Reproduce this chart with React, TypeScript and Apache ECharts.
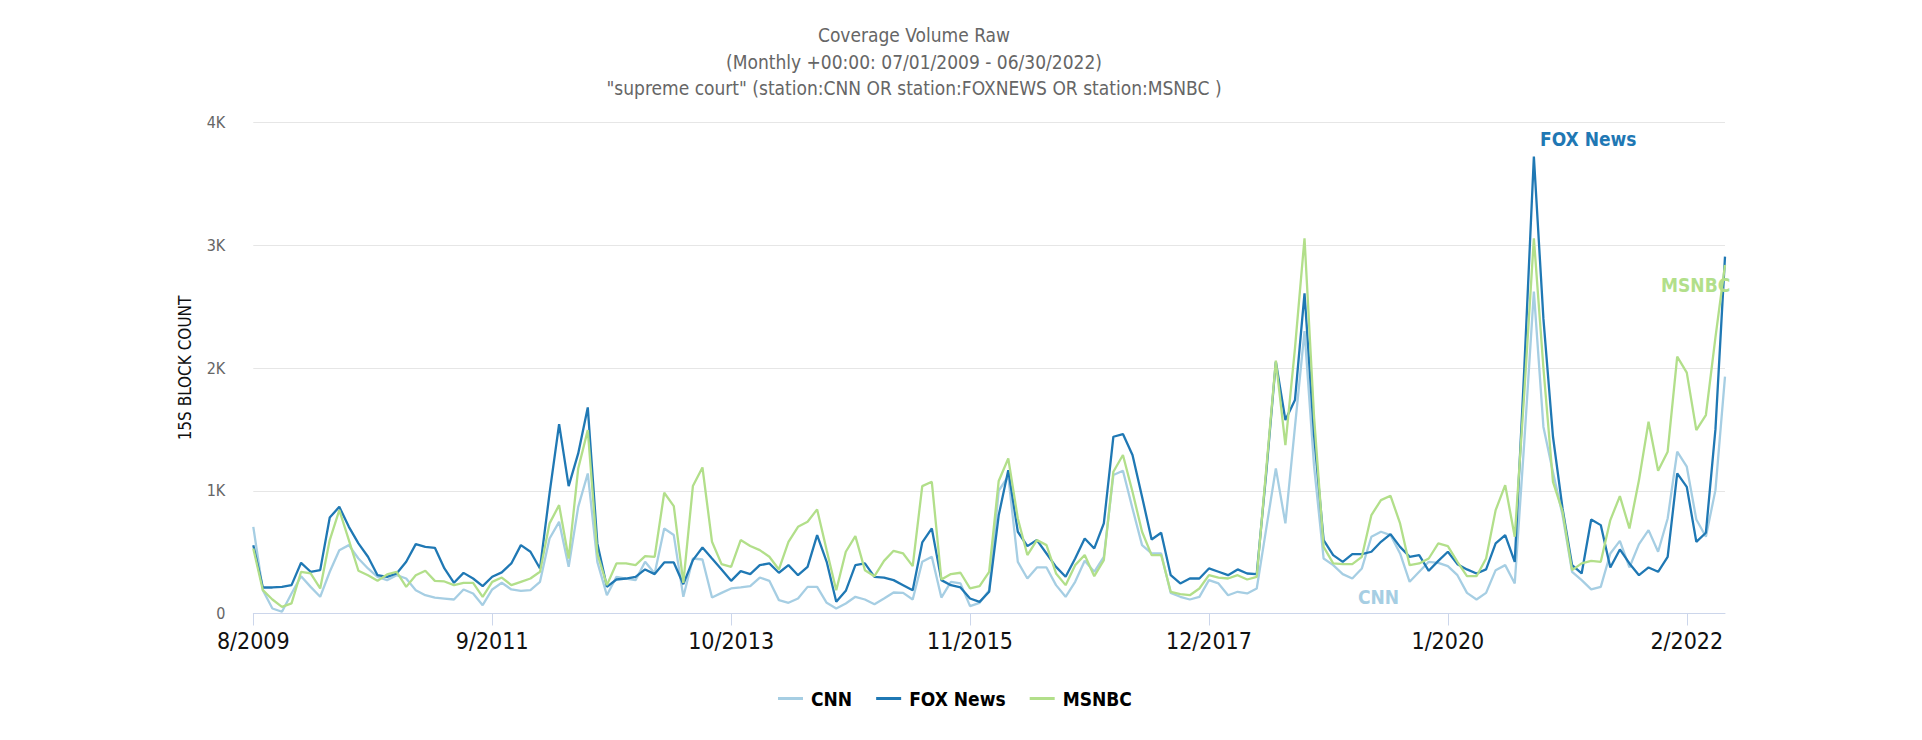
import React, { useEffect, useRef } from "react";
import * as echarts from "echarts";

// ---- Data (monthly, 8/2009 .. 6/2022) ----
const START_MONTH = 8;
const START_YEAR = 2009;
const N_POINTS = 155;
const months: string[] = Array.from({ length: N_POINTS }, (_, i) => {
  const m0 = START_MONTH - 1 + i;
  return `${(m0 % 12) + 1}/${START_YEAR + Math.floor(m0 / 12)}`;
});

const seriesNames = ["CNN", "FOX News", "MSNBC"];
const seriesColors = ["#a6cee3", "#1f78b4", "#b2df8a"];

const cnn = [
  706, 190, 41, 14, 163, 304, 217, 136, 340, 516, 557, 448, 367, 299, 272, 312, 285, 190, 149, 130,
  122, 114, 196, 163, 68, 196, 250, 196, 185, 190, 258, 611, 747, 380, 869, 1141, 421, 149, 299, 285,
  272, 421, 326, 693, 639, 136, 448, 440, 130, 168, 204, 212, 223, 293, 266, 109, 87, 122, 217, 217,
  87, 41, 82, 136, 114, 76, 122, 171, 168, 114, 421, 462, 130, 258, 245, 60, 87, 190, 1000, 1120,
  421, 285, 375, 375, 231, 136, 258, 429, 340, 462, 1128, 1163, 856, 557, 489, 489, 168, 136, 114, 136,
  272, 245, 149, 177, 163, 204, 693, 1182, 734, 1521, 2300, 1200, 448, 394, 321, 285, 367, 625, 666, 639,
  489, 258, 340, 421, 413, 386, 312, 168, 114, 168, 353, 394, 245, 1400, 2622, 1520, 1150, 802, 340, 272,
  196, 217, 489, 592, 375, 565, 679, 503, 774, 1318, 1196, 766, 625, 1005, 1929,
];

const fox = [
  557, 212, 212, 217, 231, 413, 340, 353, 782, 869, 706, 571, 462, 312, 299, 326, 421, 565, 543, 535,
  367, 250, 331, 285, 223, 299, 335, 408, 557, 503, 367, 978, 1543, 1038, 1304, 1679, 571, 217, 277, 285,
  299, 359, 321, 416, 416, 239, 435, 538, 448, 359, 266, 345, 321, 394, 408, 332, 394, 312, 380, 639,
  421, 95, 185, 394, 408, 299, 293, 272, 231, 190, 579, 693, 272, 231, 212, 122, 95, 177, 800, 1168,
  666, 549, 598, 489, 380, 299, 448, 611, 530, 734, 1440, 1462, 1291, 951, 603, 658, 312, 245, 285, 285,
  367, 340, 312, 359, 326, 321, 1150, 2051, 1576, 1739, 2608, 1450, 598, 476, 421, 484, 484, 503, 584, 647,
  543, 462, 476, 348, 429, 503, 402, 359, 326, 359, 571, 639, 421, 2000, 3722, 2400, 1440, 856, 394, 326,
  766, 720, 375, 522, 408, 312, 375, 340, 462, 1141, 1032, 584, 658, 1500, 2907,
];

const msnbc = [
  530, 190, 114, 54, 82, 340, 326, 204, 598, 842, 598, 348, 312, 266, 318, 340, 217, 312, 348, 266,
  261, 231, 250, 250, 136, 258, 293, 231, 258, 285, 340, 734, 883, 448, 1182, 1494, 489, 231, 408, 408,
  394, 467, 462, 984, 875, 250, 1038, 1190, 584, 402, 380, 598, 550, 516, 462, 359, 584, 706, 747, 848,
  516, 190, 503, 630, 353, 304, 429, 511, 489, 386, 1038, 1073, 277, 321, 332, 204, 223, 340, 1080, 1263,
  774, 476, 598, 557, 326, 231, 394, 476, 304, 435, 1155, 1291, 992, 666, 476, 476, 177, 158, 149, 204,
  312, 293, 285, 312, 277, 299, 1180, 2060, 1372, 2160, 3057, 1600, 543, 408, 402, 402, 462, 802, 924, 959,
  734, 394, 408, 448, 571, 549, 421, 304, 304, 448, 842, 1046, 625, 1800, 3057, 2000, 1073, 832, 353, 408,
  429, 421, 761, 956, 693, 1087, 1562, 1163, 1318, 2092, 1962, 1494, 1617, 2250, 2839,
];

const seriesValues = [cnn, fox, msnbc];

const yTicks = [0, 1000, 2000, 3000, 4000];

const titleLines = [
  "Coverage Volume Raw",
  "(Monthly +00:00: 07/01/2009 - 06/30/2022)",
  '"supreme court" (station:CNN OR station:FOXNEWS OR station:MSNBC )',
];

const FONT_COND = "'DejaVu Sans Condensed', 'DejaVu Sans', sans-serif";

export default function App() {
  const ref = useRef<HTMLDivElement>(null);

  useEffect(() => {
    if (!ref.current) return;
    const chart = echarts.init(ref.current, null, { renderer: "svg" });

    const option: any = {
      animation: false,
      backgroundColor: "#ffffff",
      title: {
        text: titleLines.join("\n"),
        left: 914,
        top: 22,
        padding: 0,
        textAlign: "center",
        textStyle: {
          fontFamily: FONT_COND,
          fontSize: 19,
          fontWeight: "normal",
          color: "#666666",
          lineHeight: 26.5,
        },
      },
      legend: {
        data: seriesNames,
        left: 773,
        top: 684,
        icon: "rect",
        itemWidth: 25,
        itemHeight: 3,
        itemGap: 24,
        textStyle: {
          fontFamily: FONT_COND,
          fontSize: 19,
          fontWeight: "bold",
          color: "#000000",
          padding: [0, 0, 0, 3],
        },
      },
      grid: {
        left: 253.3,
        right: 197,
        top: 122.5,
        bottom: 126.5,
        containLabel: false,
      },
      xAxis: {
        type: "category",
        boundaryGap: false,
        data: months,
        axisLine: { show: true, lineStyle: { color: "#ccd6eb", width: 1 } },
        axisTick: {
          show: true,
          interval: 24,
          length: 12,
          lineStyle: { color: "#ccd6eb", width: 1 },
        },
        axisLabel: {
          interval: 24,
          fontFamily: FONT_COND,
          fontSize: 23,
          color: "#111111",
          margin: 16,
        },
        splitLine: { show: false },
      },
      yAxis: {
        type: "value",
        min: yTicks[0],
        max: yTicks[yTicks.length - 1],
        interval: 1000,
        axisLine: { show: false },
        axisTick: { show: false },
        splitLine: { show: true, lineStyle: { color: "#e6e6e6", width: 1 } },
        axisLabel: {
          fontFamily: FONT_COND,
          fontSize: 16,
          color: "#666666",
          margin: 28,
          formatter: (v: number) => (v === 0 ? "0" : `${v / 1000}K`),
        },
        name: "15S BLOCK COUNT",
        nameLocation: "middle",
        nameGap: 60,
        nameTextStyle: {
          fontFamily: FONT_COND,
          fontSize: 17,
          color: "#111111",
        },
      },
      series: seriesNames.map((name, k) => ({
        name,
        type: "line",
        data: seriesValues[k],
        showSymbol: false,
        symbol: "none",
        color: seriesColors[k],
        lineStyle: { width: 2.3, color: seriesColors[k] },
        emphasis: { disabled: true },
        z: 2 + k,
      })),
      graphic: [
        {
          type: "text",
          x: 1540,
          y: 139,
          style: {
            text: "FOX News",
            fill: seriesColors[1],
            font: `bold 19px ${FONT_COND}`,
            textAlign: "left",
            verticalAlign: "middle",
          },
          z: 10,
        },
        {
          type: "text",
          x: 1661,
          y: 285,
          style: {
            text: "MSNBC",
            fill: seriesColors[2],
            font: `bold 19px ${FONT_COND}`,
            textAlign: "left",
            verticalAlign: "middle",
          },
          z: 10,
        },
        {
          type: "text",
          x: 1358,
          y: 597,
          style: {
            text: "CNN",
            fill: seriesColors[0],
            font: `bold 19px ${FONT_COND}`,
            textAlign: "left",
            verticalAlign: "middle",
          },
          z: 10,
        },
      ],
    };

    chart.setOption(option);
    return () => {
      chart.dispose();
    };
  }, []);

  return (
    <div
      ref={ref}
      style={{
        position: "fixed",
        left: 0,
        top: 0,
        width: 1922,
        height: 740,
        background: "#ffffff",
      }}
    />
  );
}
